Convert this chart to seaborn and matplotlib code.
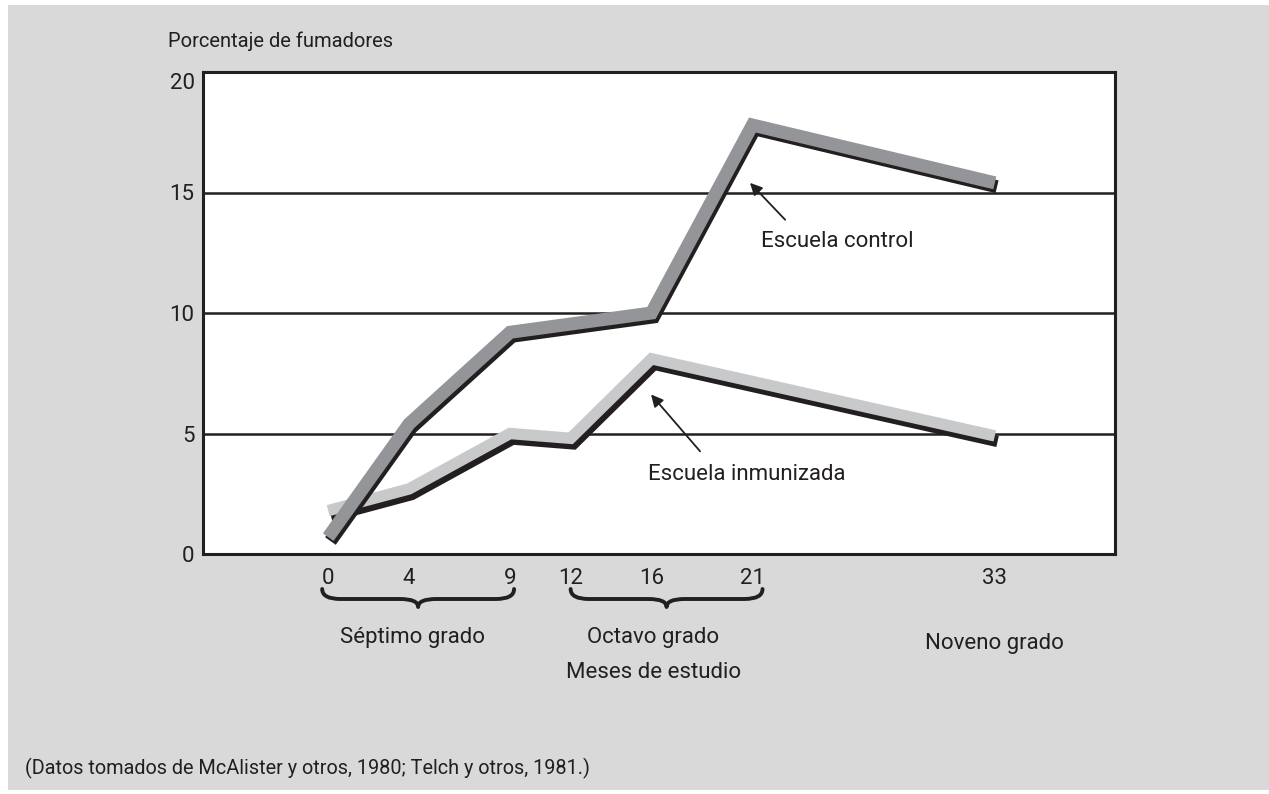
import matplotlib
matplotlib.use("Agg")
import numpy as np
import pandas as pd
import seaborn as sns
import matplotlib.pyplot as plt
import matplotlib.patheffects as pe
import matplotlib.transforms as mtransforms
from matplotlib.path import Path
from matplotlib.patches import PathPatch, Rectangle

# ---------------- data ----------------
month_ticks = [0, 4, 9, 12, 16, 21, 33]
control_months = [0, 4, 9, 16, 21, 33]
control_pct = [0.7, 5.4, 9.2, 10.0, 17.8, 15.4]
immun_months = [0, 4, 9, 12, 16, 33]
immun_pct = [1.8, 2.7, 5.0, 4.8, 8.1, 4.9]
y_ticks = [0, 5, 10, 15, 20]
y_title = "Porcentaje de fumadores"
control_label = "Escuela control"
immun_label = "Escuela inmunizada"
grade_labels = ["Séptimo grado", "Octavo grado", "Noveno grado"]
axis_label = "Meses de estudio"
source_note = "(Datos tomados de McAlister y otros, 1980; Telch y otros, 1981.)"

# ---------------- style ----------------
sns.set_theme(style="white")
plt.rcParams["font.family"] = ["Roboto", "DejaVu Sans"]
INK = "#231f20"
FS = 16

W, H = 1269, 794
fig = plt.figure(figsize=(W / 100, H / 100), dpi=100)
fig.patch.set_facecolor("white")
fig.add_artist(Rectangle((8 / W, 1 - 790 / H), 1 - 8 / W, (790 - 5) / H,
                         transform=fig.transFigure, facecolor="#d9d9d9",
                         edgecolor="none", zorder=-5))

ax = fig.add_axes([203 / W, 1 - 554 / H, (1115 - 203) / W, (554 - 72) / H])
ax.set_facecolor("white")

df_c = pd.DataFrame({"Meses": control_months, "Porcentaje": control_pct})
df_i = pd.DataFrame({"Meses": immun_months, "Porcentaje": immun_pct})

sns.lineplot(data=df_c, x="Meses", y="Porcentaje", ax=ax, color="#939598",
             lw=9.4, solid_joinstyle="miter", solid_capstyle="butt", zorder=4,
             path_effects=[pe.SimpleLineShadow(offset=(1.6, -2.8), shadow_color=INK,
                                               alpha=1), pe.Normal()])
sns.lineplot(data=df_i, x="Meses", y="Porcentaje", ax=ax, color="#c8c9cb",
             lw=8.2, solid_joinstyle="miter", solid_capstyle="butt", zorder=3,
             path_effects=[pe.SimpleLineShadow(offset=(2.0, -4.0), shadow_color=INK,
                                               alpha=1), pe.Normal()])

ax.set_xlim(-6.2, 38.95)
ax.set_ylim(0, 20)
ax.set_xticks(month_ticks)
ax.set_xticklabels([str(m) for m in month_ticks])
ax.set_yticks(y_ticks)
ax.set_yticklabels([str(v) for v in y_ticks])
ax.tick_params(axis="both", length=0, labelsize=FS, colors=INK)
ax.tick_params(axis="x", pad=10)
ax.tick_params(axis="y", pad=6)
ax.set_xlabel("")
ax.set_ylabel("")
for lab in ax.get_yticklabels():
    if lab.get_text() == "20":
        lab.set_transform(lab.get_transform() +
                          mtransforms.ScaledTranslation(0, -9 / 100, fig.dpi_scale_trans))
ax.yaxis.grid(True, color=INK, lw=1.8)
ax.xaxis.grid(False)
ax.set_axisbelow(True)
for s in ax.spines.values():
    s.set_visible(True)
    s.set_color(INK)
    s.set_linewidth(2.2)

# annotations
arrow = dict(arrowstyle="-|>", color=INK, lw=1.3, mutation_scale=18, shrinkA=0, shrinkB=0)
ax.annotate("", xy=(20.88, 15.4), xytext=(22.62, 13.87), arrowprops=arrow, zorder=6)
ax.annotate("", xy=(15.98, 6.62), xytext=(18.41, 4.26), arrowprops=arrow, zorder=6)
ax.text(21.43, 12.95, control_label, fontsize=FS, color=INK, ha="left", va="center")
ax.text(15.83, 3.31, immun_label, fontsize=FS, color=INK, ha="left", va="center")

# braces and grade labels (x in data months, y in figure pixels)
bt = mtransforms.blended_transform_factory(ax.transData, fig.transFigure)


def fy(px):
    return 1 - px / H


def brace(x0, x1, ytop=589, ybar=599, ytip=607):
    xm = (x0 + x1) / 2
    d = 0.9
    verts = [(x0, fy(ytop)), (x0, fy(ybar)), (x0 + d, fy(ybar)),
             (xm - d, fy(ybar)), (xm, fy(ybar)), (xm, fy(ytip)),
             (xm, fy(ybar)), (xm + d, fy(ybar)),
             (x1 - d, fy(ybar)), (x1, fy(ybar)), (x1, fy(ytop))]
    codes = [Path.MOVETO, Path.CURVE3, Path.CURVE3,
             Path.LINETO, Path.CURVE3, Path.CURVE3,
             Path.CURVE3, Path.CURVE3,
             Path.LINETO, Path.CURVE3, Path.CURVE3]
    fig.add_artist(PathPatch(Path(verts, codes), transform=bt, fill=False,
                             edgecolor=INK, lw=2.8, capstyle="round", joinstyle="round"))


brace(-0.3, 9.2)
brace(12.0, 21.5)

fig.text(4.15, fy(638), grade_labels[0], transform=bt, ha="center", va="center",
         fontsize=FS, color=INK)
fig.text(16.1, fy(638), grade_labels[1], transform=bt, ha="center", va="center",
         fontsize=FS, color=INK)
fig.text(16.1, fy(672), axis_label, transform=bt, ha="center", va="center",
         fontsize=FS, color=INK)
fig.text(33.0, fy(643), grade_labels[2], transform=bt, ha="center", va="center",
         fontsize=FS, color=INK)

fig.text(168 / W, fy(41), y_title, ha="left", va="center", fontsize=14.5, color=INK)
fig.text(25 / W, fy(768), source_note, ha="left", va="center", fontsize=14.3, color=INK)

fig.savefig("out.png", dpi=100)
